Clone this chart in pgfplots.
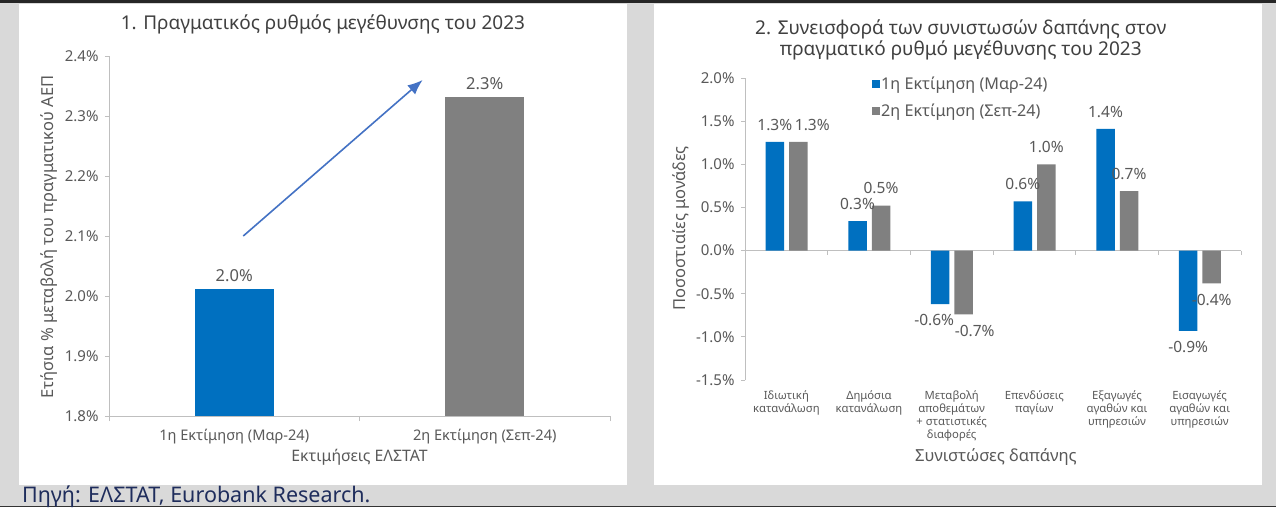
\documentclass[border=0pt]{standalone}
\usepackage{fontspec}
\setmainfont{Noto Sans}
\usepackage{pgfplots}
\usepackage{pgfplotstable}
\pgfplotsset{compat=1.18}
\usetikzlibrary{arrows.meta}
\definecolor{bgray}{HTML}{D9D9D9}
\definecolor{barblue}{HTML}{0070C0}
\definecolor{bargray}{HTML}{808080}
\definecolor{arrowblue}{HTML}{4472C4}
\definecolor{txt}{HTML}{595959}
\definecolor{ttl}{HTML}{404040}
\definecolor{navy}{HTML}{1F2D5C}
\definecolor{axisc}{HTML}{BFBFBF}
\newcommand{\fs}[1]{\fontsize{#1}{#1}\selectfont}
% x: component index, y: contribution (pp), dx/dy: label offsets (pt)
\pgfplotstableread{
x y dx dy
0 1.26 0 8
1 0.34 0 8
2 -0.62 -6 -7
3 0.57 0 8
4 1.41 0 8
5 -0.93 0 -7
}\firstest
\pgfplotstableread{
x y dx dy
0 1.26 14 8
1 0.52 0 8
2 -0.74 11 -7
3 1.00 0 8
4 0.69 0 8
5 -0.38 0 -7
}\secondest
\begin{document}
\begin{tikzpicture}
\fill[bgray] (0pt,0pt) rectangle (1276pt,507pt);
\fill[white] (19pt,22pt) rectangle (627pt,503pt);
\fill[white] (654pt,22pt) rectangle (1262pt,503pt);
\fill[black!85] (0pt,504pt) rectangle (1276pt,507pt);
\fill[black!80] (0pt,0pt) rectangle (1276pt,1.5pt);

% ---------- left chart ----------
\begin{axis}[
  at={(109pt,91pt)}, anchor=south west, scale only axis,
  width=501pt, height=360pt,
  ymin=1.8, ymax=2.4, ytick={1.8,1.9,2.0,2.1,2.2,2.3,2.4},
  xmin=-0.5, xmax=1.5, xtick={0,1},
  xticklabels={1η Εκτίμηση (Μαρ-24), 2η Εκτίμηση (Σεπ-24)},
  minor xtick={-0.5,0.5,1.5},
  axis x line*=bottom, axis y line*=left,
  axis line style={axisc, line width=0.8pt},
  tick align=outside, major tick length=4pt, minor tick length=5pt,
  tick style={axisc, line width=0.8pt},
  major x tick style={draw=none},
  /pgf/number format/assume math mode=true,
  yticklabel={\pgfmathprintnumber[fixed,precision=1,zerofill]{\tick}\%},
  yticklabel style={font=\fs{15}, text=txt, xshift=-3pt},
  xticklabel style={font=\fs{14.6}, text=txt, yshift=-6pt},
  ybar, bar width=79pt, bar shift=0pt,
  nodes near coords={\pgfmathprintnumber[fixed,precision=1,zerofill]{\pgfplotspointmeta}\%},
  every node near coord/.append style={font=\fs{16.5}, text=txt, yshift=4pt},
  title={1. Πραγματικός ρυθμός μεγέθυνσης του 2023},
  title style={font=\fs{19}, text=ttl, at={(axis description cs:0.427,1.072)}, anchor=center},
  xlabel={Εκτιμήσεις ΕΛΣΤΑΤ},
  xlabel style={font=\fs{15.8}, text=txt, at={(axis description cs:0.5,-0.114)}, anchor=center},
  ylabel={Ετήσια \% μεταβολή του πραγματικού ΑΕΠ},
  ylabel style={font=\fs{16.5}, text=txt, at={(axis description cs:-0.12,0.497)}, anchor=center},
  clip=false,
]
\addplot[fill=barblue, draw=none] coordinates {(0,2.012)};
\addplot[fill=bargray, draw=none] coordinates {(1,2.332)};
\draw[arrowblue, line width=1.6pt, -{Latex[length=15pt,width=12pt]}] (axis cs:0.036,2.1) -- (axis cs:0.752,2.36);
\end{axis}

% ---------- right chart ----------
\begin{axis}[
  at={(745pt,127pt)}, anchor=south west, scale only axis,
  width=496pt, height=302pt,
  ymin=-1.5, ymax=2.0, ytick={-1.5,-1,-0.5,0,0.5,1,1.5,2},
  xmin=-0.5, xmax=5.5, xtick={0,1,2,3,4,5},
  xticklabels={{Ιδιωτική\\κατανάλωση},{Δημόσια\\κατανάλωση},{Μεταβολή\\αποθεμάτων\\+ στατιστικές\\διαφορές},{Επενδύσεις\\παγίων},{Εξαγωγές\\αγαθών και\\υπηρεσιών},{Εισαγωγές\\αγαθών και\\υπηρεσιών}},
  minor xtick={0.5,1.5,2.5,3.5,4.5,5.5},
  axis x line=middle, axis y line=left,
  hide obscured x ticks=false, hide obscured y ticks=false,
  axis line style={-, axisc, line width=0.8pt},
  tick align=outside, major tick length=4pt, minor tick length=4pt,
  tick style={axisc, line width=0.8pt},
  major x tick style={draw=none},
  /pgf/number format/assume math mode=true,
  yticklabel={\pgfmathprintnumber[fixed,precision=1,zerofill]{\tick}\%},
  yticklabel style={font=\fs{15}, text=txt, xshift=-3pt},
  xticklabel style={font=\fontsize{11.3}{13}\selectfont, text=txt, align=center, anchor=north, yshift=-133pt},
  ybar, bar width=18.5pt,
  visualization depends on={\thisrow{dx} \as \dx},
  visualization depends on={\thisrow{dy} \as \dy},
  nodes near coords={\pgfmathprintnumber[fixed,precision=1,zerofill]{\pgfplotspointmeta}\%},
  every node near coord/.append style={font=\fs{15.5}, text=txt, xshift=\dx pt, yshift=\dy pt},
  title={2. Συνεισφορά των συνιστωσών δαπάνης στον\\πραγματικό ρυθμό μεγέθυνσης του 2023},
  title style={font=\fontsize{19}{21}\selectfont, text=ttl, align=center, at={(axis description cs:0.435,1.106)}, anchor=center},
  xlabel={Συνιστώσες δαπάνης},
  xlabel style={font=\fs{16.6}, text=txt, at={(axis description cs:0.506,-0.255)}, anchor=center},
  ylabel={Ποσοστιαίες μονάδες},
  ylabel style={font=\fs{16.5}, text=txt, at={(axis description cs:-0.129,0.503)}, anchor=center},
  legend style={at={(0.25,1.013)}, anchor=north west, draw=none, fill=none, font=\fs{16.2}, text=txt, row sep=11pt, nodes={inner sep=1pt}},
  legend cell align=left,
  legend image code/.code={\fill[#1] (-2pt,-4pt) rectangle (6pt,4pt);},
  clip=false,
]
\addplot[fill=barblue, draw=none, bar shift=-11.5pt] table[x=x, y=y] {\firstest};
\addplot[fill=bargray, draw=none, bar shift=12pt] table[x=x, y=y] {\secondest};
\legend{1η Εκτίμηση (Μαρ-24), 2η Εκτίμηση (Σεπ-24)}
\end{axis}

\node[anchor=base west, font=\fs{21.5}, text=navy, inner sep=0pt] at (22pt,4.5pt) {Πηγή: ΕΛΣΤΑΤ, Eurobank Research.};
\pgfresetboundingbox
\useasboundingbox (0pt,0pt) rectangle (1276pt,507pt);
\end{tikzpicture}
\end{document}
